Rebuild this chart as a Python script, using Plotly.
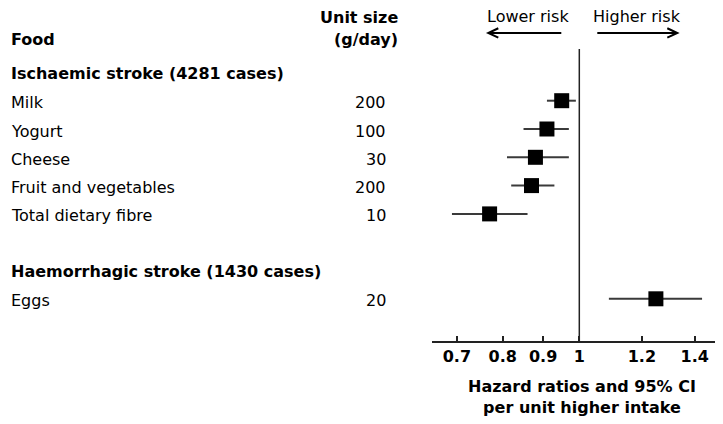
import plotly.graph_objects as go

# ---- data ----
foods = ["Milk", "Yogurt", "Cheese", "Fruit and vegetables", "Total dietary fibre", "Eggs"]
unit_sizes = ["200", "100", "30", "200", "10", "20"]
hr = [0.95, 0.91, 0.88, 0.87, 0.77, 1.25]
ci_low = [0.91, 0.85, 0.81, 0.82, 0.69, 1.09]
ci_high = [0.99, 0.97, 0.97, 0.93, 0.86, 1.43]
rows = [1, 2, 3, 4, 5, 8]
group_titles = ["Ischaemic stroke (4281 cases)", "Haemorrhagic stroke (1430 cases)"]
group_rows = [0, 7]
tick_vals = [0.7, 0.8, 0.9, 1, 1.2, 1.4]
tick_text = ["0.7", "0.8", "0.9", "1", "1.2", "1.4"]

FONT = "DejaVu Sans, Arial, sans-serif"
OFF = 8  # page offset of the figure inside the browser window
W, H = 723 - OFF, 424 - OFF
# plot area in page pixels
PL, PR, PT, PB = 431.7, 717.7, 49.0, 340.7
ML, MR, MT, MB = PL - OFF, W - (PR - OFF), PT - OFF, H - (PB - OFF)
PW, PH = PR - PL, PB - PT
LEFT_X = 8.5


def px(xp):
    return (xp - PL) / PW


def py(yp):
    return (PB - yp) / PH


fig = go.Figure()
fig.add_trace(go.Scatter(
    x=hr, y=rows, mode="markers",
    marker=dict(symbol="square", size=15, color="black"),
    error_x=dict(type="data", symmetric=False,
                 array=[h - v for h, v in zip(ci_high, hr)],
                 arrayminus=[v - l for v, l in zip(hr, ci_low)],
                 width=0, thickness=2, color="#3a3a3a"),
    showlegend=False, cliponaxis=False,
))

ann = []
for f, u, r in zip(foods, unit_sizes, rows):
    ann.append(dict(x=px(LEFT_X), y=r, xref="paper", yref="y", text=f, showarrow=False,
                    xanchor="left", yanchor="middle", yshift=-2,
                    font=dict(family=FONT, size=16, color="black")))
    ann.append(dict(x=px(388), y=r, xref="paper", yref="y", text=u, showarrow=False,
                    xanchor="right", yanchor="middle", yshift=-2,
                    font=dict(family=FONT, size=16, color="black")))
for g, r in zip(group_titles, group_rows):
    ann.append(dict(x=px(LEFT_X), y=r, xref="paper", yref="y", text=g, showarrow=False,
                    xanchor="left", yanchor="middle", yshift=-1,
                    font=dict(family=FONT, size=16, color="black", weight="bold")))

ann.append(dict(x=px(LEFT_X), y=py(39.5), xref="paper", yref="paper", text="Food", showarrow=False,
                xanchor="left", yanchor="middle",
                font=dict(family=FONT, size=16, color="black", weight="bold")))
ann.append(dict(x=px(400), y=py(17.5), xref="paper", yref="paper", text="Unit size", showarrow=False,
                xanchor="right", yanchor="middle",
                font=dict(family=FONT, size=16, color="black", weight="bold")))
ann.append(dict(x=px(400), y=py(39.5), xref="paper", yref="paper", text="(g/day)", showarrow=False,
                xanchor="right", yanchor="middle",
                font=dict(family=FONT, size=16, color="black", weight="bold")))
ann.append(dict(x=px(527.5), y=py(16.5), xref="paper", yref="paper", text="Lower risk", showarrow=False,
                xanchor="center", yanchor="middle",
                font=dict(family=FONT, size=16, color="black")))
ann.append(dict(x=px(636.7), y=py(16.5), xref="paper", yref="paper", text="Higher risk", showarrow=False,
                xanchor="center", yanchor="middle",
                font=dict(family=FONT, size=16, color="black")))
ann.append(dict(x=px(582), y=py(397), xref="paper", yref="paper",
                text="Hazard ratios and 95% CI<br>per unit higher intake", showarrow=False,
                xanchor="center", yanchor="middle",
                font=dict(family=FONT, size=16, color="black", weight="bold")))

# arrows
ay = 33
la0, la1 = 561, 488
ra0, ra1 = 597, 677
hx, hy = 10, 4.7
left_path = (f"M {px(la0)} {py(ay)} L {px(la1)} {py(ay)} "
             f"M {px(la1 + hx)} {py(ay - hy)} L {px(la1)} {py(ay)} L {px(la1 + hx)} {py(ay + hy)}")
right_path = (f"M {px(ra0)} {py(ay)} L {px(ra1)} {py(ay)} "
              f"M {px(ra1 - hx)} {py(ay - hy)} L {px(ra1)} {py(ay)} L {px(ra1 - hx)} {py(ay + hy)}")
shapes = [
    dict(type="path", xref="paper", yref="paper", path=left_path, line=dict(color="black", width=2)),
    dict(type="path", xref="paper", yref="paper", path=right_path, line=dict(color="black", width=2)),
    dict(type="line", xref="x", yref="paper", x0=1, x1=1, y0=0, y1=1,
         line=dict(color="#222222", width=1.5)),
]

fig.update_layout(
    width=W, height=H, margin=dict(l=ML, r=MR, t=MT, b=MB, pad=0),
    paper_bgcolor="white", plot_bgcolor="white",
    annotations=ann, shapes=shapes,
    xaxis=dict(type="log", range=[-0.1864, 0.1755], tickvals=tick_vals, ticktext=tick_text,
               ticks="inside", ticklen=5, tickwidth=1.5, tickcolor="#222222",
               showline=True, linecolor="#222222", linewidth=1.5, showgrid=False, zeroline=False,
               tickfont=dict(family=FONT, size=16, color="black", weight="bold")),
    yaxis=dict(range=[9.491, -0.827], visible=False, showgrid=False, zeroline=False),
)

fig.write_html("out.html")
